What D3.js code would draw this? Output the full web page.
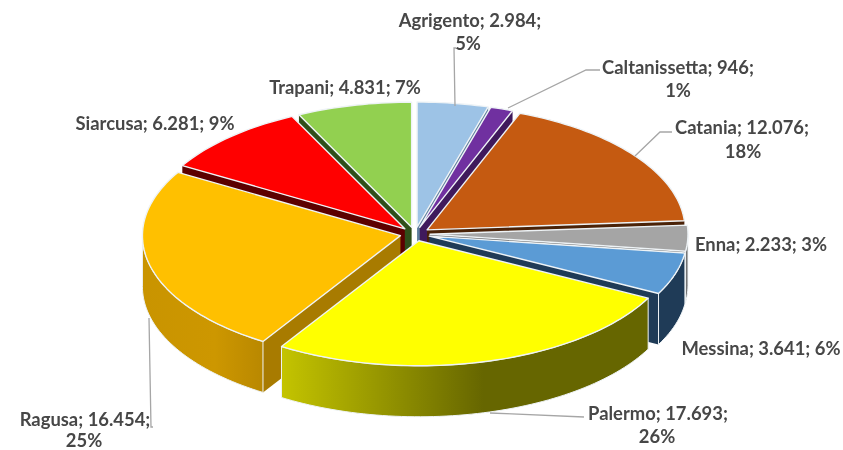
<!DOCTYPE html>
<html>
<head>
<meta charset="utf-8">
<script src="https://cdn.jsdelivr.net/npm/d3@7/dist/d3.min.js"></script>
<style>
html,body{margin:0;padding:0;background:#fff}
svg{display:block;filter:blur(0.45px)}
text{font-family:Lato,"Open Sans",sans-serif;font-weight:700;font-size:18.4px;fill:#474747}
</style>
</head>
<body>
<svg id="c" width="843" height="450"></svg>
<script>
// Data
const categories = ["Agrigento","Caltanissetta","Catania","Enna","Messina","Palermo","Ragusa","Siarcusa","Trapani"];
const values = [2984,946,12076,2233,3641,17693,16454,6281,4831];
const percents = [5,1,18,3,6,26,25,9,7];
// Style
const topColors = ["#9dc3e6","#7030a0","#c55a11","#a5a5a5","#5b9bd5","#ffff00","#ffc000","#ff0000","#92d050"];
const wallColors = ["#5f7f9e","#3f1a5c","#4a2207","#666666","#1f3b57","#666600","#a87b00","#5c0000","#2f4f1a"];
const gradStops = {5:[["0%","#c4c400"],["55%","#666600"],["100%","#666600"]],6:[["0%","#c99400"],["60%","#cd9700"],["100%","#b98800"]]};
// Layout
const W=843,H=450,cx=415,cy=234,rx=258,ry=125,depth=51,ex=15,ey=7;
// label lines are [text, centre x, centre y]
const labelLines = [
  [[0,470,20],[1,468,43]],
  [[0,678,67],[1,678,90]],
  [[0,742,127],[1,743,151]],
  [[2,761,244]],
  [[2,761,348]],
  [[0,658,413],[1,657,436]],
  [[0,85,419],[1,84,440]],
  [[2,155,123]],
  [[2,345,87]]
];
const leaders = [
  [[456,48],[454,48],[455,106]],
  [[600,70],[586,70],[508,108]],
  [[672,132],[660,132],[635,156]],
  [],
  [],
  [[584,417],[490,413]],
  [[153,427],[151,427],[149,318]],
  [],
  []
];

const svg=d3.select("#c");
const defs=svg.append("defs");
const sx=d3.scaleLinear().domain([-1,1]).range([-rx,rx]);
const sy=d3.scaleLinear().domain([-1,1]).range([-ry,ry]);
const nf=d3.formatLocale({decimal:",",thousands:".",grouping:[3],currency:["","€"]}).format(",d");
const arcs=d3.pie().sort(null).value(d=>d)(values).map((a,i)=>{
  const mid=(a.startAngle+a.endAngle)/2;
  return {i,a0:a.startAngle,a1:a.endAngle,mid,ax:cx+ex*Math.sin(mid),ay:cy-ey*Math.cos(mid)};
});
const pt=(s,t,dz=0)=>[s.ax+sx(Math.sin(t)),s.ay-sy(Math.cos(t))+dz];
const samples=(a,b)=>{const n=Math.max(2,Math.ceil((b-a)*40));return d3.range(n+1).map(k=>a+(b-a)*k/n);};
const poly=d3.line().curve(d3.curveLinear);
const EDGE="#eef3f6";

Object.entries(gradStops).forEach(([k,st])=>{
  const s=arcs[+k];
  const lo=Math.max(s.a0,Math.PI/2),hi=Math.min(s.a1,Math.PI*1.5);
  const xs=samples(lo,hi).map(t=>pt(s,t)[0]);
  const g=defs.append("linearGradient").attr("id","wall"+k).attr("gradientUnits","userSpaceOnUse")
    .attr("x1",d3.min(xs)).attr("x2",d3.max(xs)).attr("y1",0).attr("y2",0);
  st.forEach(o=>g.append("stop").attr("offset",o[0]).attr("stop-color",o[1]));
});

const order=arcs.slice().sort((p,q)=>Math.cos(q.mid)-Math.cos(p.mid));
const gPie=svg.append("g");
order.forEach(s=>{
  const g=gPie.append("g");
  const wall=i=>gradStops[i]?`url(#wall${i})`:wallColors[i];
  if(Math.sin(s.a0)<0){
    const e=pt(s,s.a0);
    g.append("path").attr("d",poly([[s.ax,s.ay],e,[e[0],e[1]+depth],[s.ax,s.ay+depth]])+"Z")
      .attr("fill",wallColors[s.i]);
  }
  if(Math.sin(s.a1)>0){
    const e=pt(s,s.a1);
    g.append("path").attr("d",poly([[s.ax,s.ay],e,[e[0],e[1]+depth],[s.ax,s.ay+depth]])+"Z")
      .attr("fill",wallColors[s.i]);
  }
  const lo=Math.max(s.a0,Math.PI/2),hi=Math.min(s.a1,Math.PI*1.5);
  if(hi>lo){
    const ts=samples(lo,hi);
    const p=ts.map(t=>pt(s,t)).concat(ts.slice().reverse().map(t=>pt(s,t,depth)));
    g.append("path").attr("d",poly(p)+"Z").attr("fill",wall(s.i))
      .attr("stroke",EDGE).attr("stroke-width",1);
  }
  const top=[[s.ax,s.ay]].concat(samples(s.a0,s.a1).map(t=>pt(s,t)));
  g.append("path").attr("d",poly(top)+"Z").attr("fill",topColors[s.i])
    .attr("stroke",EDGE).attr("stroke-width",1.4).attr("stroke-linejoin","round");
});

svg.append("g").selectAll("path").data(leaders.filter(l=>l.length)).join("path")
  .attr("d",d=>poly(d)).attr("fill","none").attr("stroke","#a6a6a6").attr("stroke-width",1.3);

const gLab=svg.append("g");
categories.forEach((c,i)=>{
  const num=nf(values[i]), pct=percents[i]+"%";
  const texts=[`${c}; ${num};`,pct,`${c}; ${num}; ${pct}`];
  labelLines[i].forEach(l=>{
    gLab.append("text").attr("x",l[1]).attr("y",l[2]).attr("text-anchor","middle")
      .attr("dominant-baseline","central").text(texts[l[0]]);
  });
});
</script>
</body>
</html>
